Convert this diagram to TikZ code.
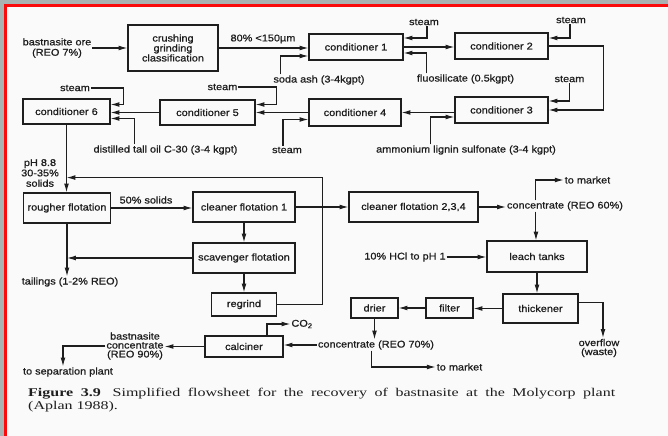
\documentclass[tikz,border=0pt]{standalone}
\usepackage{fontspec}
\setmainfont{Liberation Sans}
\newfontfamily\flowfont{Liberation Sans}[FakeStretch=1.12, FakeBold=0.8]
\newfontfamily\capfont{Liberation Serif}[FakeStretch=1.35]
\usetikzlibrary{arrows.meta, calc}
\definecolor{FrameGray}{RGB}{169,177,177}
\definecolor{FrameRed}{RGB}{250,10,10}
\definecolor{Paper}{RGB}{250,250,250}
\definecolor{Ink}{RGB}{30,30,30}

\begin{document}
\begin{tikzpicture}[x=0.4mm, y=-0.4mm,
    box/.style={rectangle, draw=Ink, line width=1.3pt, inner sep=0pt, align=center,
                text=Ink, font=\flowfont\fontsize{11.1}{11.8}\selectfont},
    lbl/.style={inner sep=1pt, align=center, text=Ink,
                font=\flowfont\fontsize{11.1}{11.8}\selectfont},
    tight/.style={font=\flowfont\fontsize{11.1}{10.2}\selectfont},
    arr/.style={draw=Ink, line width=1.2pt, -{Latex[length=10pt,width=5.5pt]}}
  ]
  % Frame
  \useasboundingbox (0,0) rectangle (668,436);
  \fill[FrameGray] (0,0) rectangle (668,436);
  \fill[FrameRed] (4,4) rectangle (668,436);
  \fill[Paper] (7,7) rectangle (668,436);

  % Conditioning line
  \node[box, tight, minimum width=36mm, minimum height=18.4mm] (crush) at (173,48)
        {crushing\\grinding\\classification};
  \node[box, minimum width=37.6mm, minimum height=10.4mm] (cond1) at (356,47) {conditioner 1};
  \node[box, minimum width=37.2mm, minimum height=10.4mm] (cond2) at (501.5,46) {conditioner 2};
  \node[box, minimum width=37.2mm, minimum height=10.4mm] (cond3) at (501.5,110) {conditioner 3};
  \node[box, minimum width=36.8mm, minimum height=10.8mm] (cond4) at (355,112.5) {conditioner 4};
  \node[box, minimum width=38mm, minimum height=10mm] (cond5) at (207.5,112.5) {conditioner 5};
  \node[box, minimum width=34.8mm, minimum height=10mm] (cond6) at (66.5,111.5) {conditioner 6};

  % Reagent labels
  \node[lbl] (ore) at (57,48) {bastnasite ore\\(REO 7\%)};
  \node[lbl] (lbl80) at (263,39) {80\% <150µm};
  \node[lbl] (soda) at (319,80) {soda ash (3-4kgpt)};
  \node[lbl] (steamA) at (424,22) {steam};
  \node[lbl] (fluo) at (465.5,79) {fluosilicate (0.5kgpt)};
  \node[lbl] (steamB) at (571,20) {steam};
  \node[lbl] (steamC) at (569.5,79) {steam};
  \node[lbl] (amm) at (466,150) {ammonium lignin sulfonate (3-4 kgpt)};
  \node[lbl] (steamD) at (287,150) {steam};
  \node[lbl] (steamE) at (222.5,87) {steam};
  \node[lbl] (steamF) at (75,88) {steam};
  \node[lbl] (tall) at (165.5,150) {distilled tall oil C-30 (3-4 kgpt)};

  \draw[arr] (ore) -- (crush);
  \draw[arr] (crush.east) -- (crush.east -| cond1.west);
  \draw[arr] ($(soda.north west)+(8,0)$) |- ($(cond1.west)+(0,9)$);
  \draw[arr] ($(steamA.south)+(3,0)$) |- ($(cond1.east)+(0,-9)$);
  \draw[arr] ($(fluo.north west)+(11,0)$) |- ($(cond1.east)+(0,6)$);
  \draw[arr] (cond1.east) -- (cond1.east -| cond2.west);
  \draw[arr] ($(steamB.south)+(-1,0)$) |- ($(cond2.east)+(0,-8)$);
  \draw[arr] (cond2.east) -- ++(55,0) |- (cond3.east);
  \draw[arr] (steamC.south) |- ($(cond3.east)+(0,-9)$);
  \draw[arr] (cond3.west |- cond4) -- (cond4.east);
  \draw[arr] ($(amm.north west)+(55,0)$) |- ($(cond3.west)+(0,7)$);
  \draw[arr] (cond4.west) -- (cond4.west -| cond5.east);
  \draw[arr] ($(steamD.north)+(-4,0)$) |- ($(cond4.west)+(0,7)$);
  \draw[arr] (steamE.east) -- ++(38,0) |- ($(cond5.east)+(0,-8)$);
  \draw[arr] (cond5.west) -- (cond5.west -| cond6.east);
  \draw[arr] (steamF.east) -- ++(33,0) |- ($(cond6.east)+(0,-7)$);
  \draw[arr] ($(tall.north west)+(42,0)$) |- ($(cond6.east)+(0,7)$);

  % Flotation circuit
  \node[box, minimum width=34.8mm, minimum height=12mm] (rough) at (67,208) {rougher flotation};
  \node[box, minimum width=40.8mm, minimum height=12mm] (clean1) at (244,207) {cleaner flotation 1};
  \node[box, minimum width=40.8mm, minimum height=12mm] (scav) at (244,258) {scavenger flotation};
  \node[box, minimum width=26mm, minimum height=9.2mm] (regrind) at (244,304.5) {regrind};
  \node[box, minimum width=51.6mm, minimum height=12mm] (clean234) at (413.5,207)
        {cleaner flotation 2,3,4};
  \node[lbl] (ph) at (40,173) {pH 8.8\\30-35\%\\solids};
  \node[lbl] (lbl50) at (146,200) {50\% solids};
  \node[lbl] (tail) at (70,282) {tailings (1-2\% REO)};
  \node[lbl] (c60) at (565,206) {concentrate (REO 60\%)};
  \node[lbl] (mkt1) at (587.5,180) {to market};

  \draw[arr] (cond6.south) -- (cond6.south |- rough.north);
  \coordinate (join) at ($(cond6.south)+(0,53)$);
  \draw[arr] (regrind.east) -- ++(45,0) |- (join);
  \draw[arr] (rough.east) -- (rough.east -| clean1.west);
  \draw[arr] (rough.south) -- (rough.south |- tail.north);
  \draw[arr] (scav.west) -- (scav.west -| rough.south);
  \draw[arr] (clean1.south) -- (scav.north);
  \draw[arr] (scav.south) -- (regrind.north);
  \draw[arr] (clean1.east) -- (clean234.west);
  \draw[arr] (clean234.east) -- (clean234.east -| c60.west);
  \draw[arr] ($(c60.north west)+(30,0)$) |- (mkt1.west);

  % Leaching and calcining
  \node[lbl] (hcl) at (405,257) {10\% HCl to pH 1};
  \node[box, minimum width=40mm, minimum height=12.4mm] (leach) at (537,256.5) {leach tanks};
  \node[box, minimum width=30mm, minimum height=11.6mm] (thick) at (540.5,308.5) {thickener};
  \node[box, minimum width=18.8mm, minimum height=8mm] (filter) at (449.5,308) {filter};
  \node[box, minimum width=18.8mm, minimum height=8mm] (drier) at (374.5,308) {drier};
  \node[box, minimum width=31.2mm, minimum height=8.4mm] (calc) at (244,346.5) {calciner};
  \node[lbl, tight] (ovf) at (599,348) {overflow\\(waste)};
  \node[lbl] (c70) at (376,345) {concentrate (REO 70\%)};
  \node[lbl] (mkt2) at (459.5,367) {to market};
  \node[lbl] (co2) at (302,324) {CO\textsubscript{2}};
  \node[lbl, tight] (b90) at (135,346) {bastnasite\\concentrate\\(REO 90\%)};
  \node[lbl] (sep) at (68,372) {to separation plant};

  \coordinate (c60x) at ($(c60.south west)+(30,0)$);
  \draw[arr] (c60x) -- (c60x |- leach.north);
  \draw[arr] (hcl.east) -- (hcl.east -| leach.west);
  \draw[arr] (leach.south) -- (leach.south |- thick.north);
  \draw[arr] (thick.west) -- (thick.west -| filter.east);
  \draw[arr] (filter.west) -- (filter.west -| drier.east);
  \draw[arr] ($(thick.east)+(0,-6)$) -| ($(ovf.north)+(4,0)$);
  \draw[arr] (drier.south) -- (drier.south |- c70.north);
  \draw[arr] ($(c70.south west)+(55,0)$) |- (mkt2.west);
  \draw[arr] (c70.west) -- (c70.west -| calc.east);
  \draw[arr] ($(calc.north)+(23,0)$) |- (co2.west);
  \draw[arr] (calc.west) -- (calc.west -| b90.east);
  \draw[arr] (b90.west) -| ($(sep.north)+(-5,0)$);

  % Caption
  \node[anchor=base west, inner sep=0pt, text width=234.8mm, align=justify, text=Ink,
        font=\capfont\fontsize{13.5}{14.5}\selectfont] (cap) at (28,397)
        {\textbf{Figure 3.9}\quad Simplified flowsheet for the recovery of bastnasite
         at the Molycorp plant\linebreak (Aplan 1988).};
\end{tikzpicture}
\end{document}
